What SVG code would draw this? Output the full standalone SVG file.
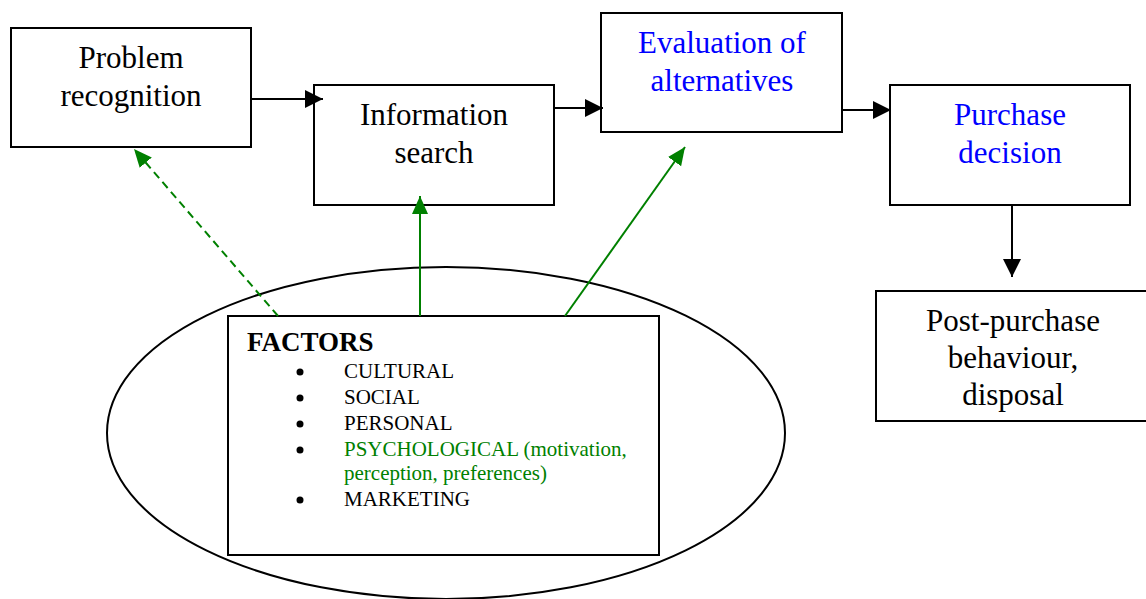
<svg xmlns="http://www.w3.org/2000/svg" width="1146" height="599" viewBox="0 0 1146 599">
<style>
.box{fill:#fff;stroke:#000;stroke-width:2}
text{font-family:"Liberation Serif","Times New Roman",serif}
.t{font-size:31px;text-anchor:middle;fill:#000}
.blue{fill:#0000ff}
.s{font-size:21px;fill:#000}
.g{fill:#008000}
.k{stroke:#000;stroke-width:2;fill:none}
.gl{stroke:#008000;stroke-width:2;fill:none}
</style>
<defs>
<marker id="ak" markerWidth="18" markerHeight="18" refX="18" refY="9" orient="auto" markerUnits="userSpaceOnUse" viewBox="0 0 18 18"><path d="M0,0L18,9L0,18z" fill="#000"/></marker>
<marker id="ag" markerWidth="18" markerHeight="18" refX="18" refY="9" orient="auto" markerUnits="userSpaceOnUse" viewBox="0 0 18 18"><path d="M0,1L18,9L0,17z" fill="#008000"/></marker>
</defs>
<g id="factors-ellipse"><ellipse cx="446" cy="433" rx="339" ry="166" fill="none" stroke="#000" stroke-width="2"/></g>
<g id="problem-recognition"><rect class="box" x="11" y="28" width="240" height="119"/><text class="t" x="131" y="68">Problem</text><text class="t" x="131" y="106">recognition</text></g>
<g id="information-search"><rect class="box" x="314" y="85" width="240" height="120"/><text class="t" x="434" y="125">Information</text><text class="t" x="434" y="163">search</text></g>
<g id="evaluation"><rect class="box" x="601" y="13" width="241" height="119"/><text class="t blue" x="722" y="53">Evaluation of</text><text class="t blue" x="722" y="91">alternatives</text></g>
<g id="purchase-decision"><rect class="box" x="890" y="85" width="240" height="120"/><text class="t blue" x="1010" y="125">Purchase</text><text class="t blue" x="1010" y="163">decision</text></g>
<g id="post-purchase"><rect class="box" x="876" y="291" width="272" height="130"/><text class="t" x="1013" y="331">Post-purchase</text><text class="t" x="1013" y="368">behaviour,</text><text class="t" x="1013" y="405">disposal</text></g>
<g id="factors"><rect class="box" x="228" y="316" width="431" height="239"/>
<text x="247" y="351" style="font-size:27px;font-weight:bold">FACTORS</text>
<circle cx="300" cy="372" r="3.5"/><text class="s" x="344" y="378">CULTURAL</text>
<circle cx="300" cy="398" r="3.5"/><text class="s" x="344" y="404">SOCIAL</text>
<circle cx="300" cy="424" r="3.5"/><text class="s" x="344" y="430">PERSONAL</text>
<circle cx="300" cy="450" r="3.5"/><text class="s g" x="344" y="456">PSYCHOLOGICAL (motivation,</text>
<text class="s g" x="344" y="480">perception, preferences)</text>
<circle cx="300" cy="500" r="3.5"/><text class="s" x="344" y="506">MARKETING</text>
</g>
<g id="connectors">
<line class="k" x1="251" y1="99" x2="323" y2="99" marker-end="url(#ak)"/>
<line class="k" x1="554" y1="108" x2="603" y2="108" marker-end="url(#ak)"/>
<line class="k" x1="842" y1="110" x2="891" y2="110" marker-end="url(#ak)"/>
<line class="k" x1="1012" y1="205" x2="1012" y2="277" marker-end="url(#ak)"/>
<line class="gl" x1="278" y1="316" x2="134" y2="149" stroke-dasharray="8,5" marker-end="url(#ag)"/>
<line class="gl" x1="420" y1="316" x2="420" y2="196" marker-end="url(#ag)"/>
<line class="gl" x1="565" y1="316" x2="685" y2="147" marker-end="url(#ag)"/>
</g>
</svg>
